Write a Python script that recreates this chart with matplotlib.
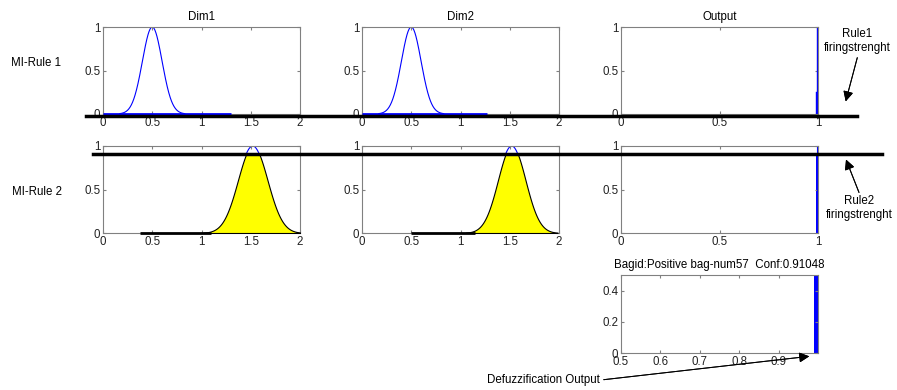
import numpy as np
import matplotlib.pyplot as plt
from matplotlib.lines import Line2D
from matplotlib.transforms import blended_transform_factory, offset_copy

plt.rcParams['font.family'] = ['Liberation Sans', 'DejaVu Sans']
plt.rcParams['font.size'] = 8.3

# rule data
rule_names = ['MI-Rule 1', 'MI-Rule 2']
input_names = ['Dim1', 'Dim2']
mf_centers = [[0.5, 0.5], [1.52, 1.52]]
mf_sigmas = [[0.1, 0.1], [0.15, 0.14]]
firing = [0.0, 0.91]
# instance segments drawn on the zero line (start, end)
inst_segs = [[(0.0, 1.3), (0.0, 1.27)], [(0.38, 1.1), (0.5, 1.15)]]
inst_colors = ['blue', 'black']
out_mf_x = [0.99, 1.0]
defuzz_bar = (0.99, 1.0)
conf = 0.91048
bag_title = 'Bagid:Positive bag-num57  Conf:%.5f' % conf

W, H = 897, 390
fig = plt.figure(figsize=(W / 100, H / 100), dpi=100)

def px(x, y):
    return x / W, 1 - y / H

def style(ax):
    for s in ax.spines.values():
        s.set_color('#808080')
    ax.tick_params(direction='in', length=2, color='#808080', top=True, right=True,
                   labelsize=8.3, pad=2, labelcolor='#222222')

lefts = [103, 362, 621]
tops = [27, 146]
aw, ah = 197, 87
axes_rows = []
for r in range(2):
    row = []
    for c in range(3):
        ax = fig.add_axes([lefts[c] / W, 1 - (tops[r] + ah) / H, aw / W, ah / H])
        style(ax)
        row.append(ax)
    axes_rows.append(row)

xs = np.linspace(0, 2, 801)
for r in range(2):
    for c in range(2):
        ax = axes_rows[r][c]
        mf = np.exp(-(xs - mf_centers[r][c]) ** 2 / (2 * mf_sigmas[r][c] ** 2))
        vis = np.where(mf > 0.004, mf, np.nan)
        if firing[r] > 0:
            vis = np.where(mf > firing[r] - 0.02, mf, np.nan)
        ax.plot(xs, vis, color='blue', lw=0.8, zorder=2)
        if firing[r] > 0:
            clip = np.minimum(mf, firing[r])
            ax.fill_between(xs, 0, clip, where=clip > 0.004, facecolor='yellow',
                            edgecolor='black', lw=0.8, zorder=3)
        a, b = inst_segs[r][c]
        ax.plot([a, b], [0, 0], color=inst_colors[r], lw=2, solid_capstyle='butt',
                zorder=4, clip_on=False)
        ax.set_xlim(0, 2)
        ax.set_ylim(0, 1)
        ax.set_xticks([0, 0.5, 1, 1.5, 2])
        ax.set_xticklabels(['0', '0.5', '1', '1.5', '2'])
        ax.set_yticks([0, 0.5, 1])
        ax.set_yticklabels(['0', '0.5', '1'])
        if r == 0:
            ax.set_title(input_names[c], fontsize=8.3, pad=5)

    ax = axes_rows[r][2]
    if r == 0:
        ax.plot([0.996, 0.996], [0, 1], color='blue', lw=1)
        ax.plot([0.99, 0.99], [0, 0.25], color='blue', lw=1)
        ax.set_title('Output', fontsize=8.3, pad=5)
    else:
        ax.fill_between(out_mf_x, 0, firing[r], color='blue', lw=0)
        ax.plot([0.996, 0.996], [0, 1], color='blue', lw=0.8)
    ax.set_xlim(0, 1)
    ax.set_ylim(0, 1)
    ax.set_xticks([0, 0.5, 1])
    ax.set_xticklabels(['0', '0.5', '1'])
    ax.set_yticks([0, 0.5, 1])
    ax.set_yticklabels(['0', '0.5', '1'])

# defuzzification axes
axd = fig.add_axes([621 / W, 1 - 353 / H, aw / W, 78 / H])
style(axd)
axd.fill_between(defuzz_bar, 0, 0.5, color='blue', lw=0)
axd.plot([defuzz_bar[1], defuzz_bar[1]], [0, 0.5], color='#000080', lw=0.8)
axd.set_xlim(0.5, 1.0)
axd.set_ylim(0, 0.5)
axd.set_xticks([0.5, 0.6, 0.7, 0.8, 0.9])
axd.set_xticklabels(['0.5', '0.6', '0.7', '0.8', '0.9'])
axd.set_yticks([0, 0.2, 0.4])
axd.set_yticklabels(['0', '0.2', '0.4'])
axd.set_title(bag_title, fontsize=8.3, pad=5)

# rule labels
fig.text(*px(36, 63), rule_names[0], ha='center', va='center')
fig.text(*px(37, 192), rule_names[1], ha='center', va='center')

# firing strength lines across each row
line_x = [(86, 857), (93, 882)]
line_off = [-2.0, 0.0]
for r in range(2):
    tr = blended_transform_factory(fig.transFigure, axes_rows[r][0].transData)
    tr = offset_copy(tr, fig=fig, y=line_off[r], units='dots')
    fig.add_artist(Line2D([line_x[r][0] / W, line_x[r][1] / W], [firing[r], firing[r]],
                          transform=tr, color='black', lw=2.5, zorder=1))

# annotations
arrow = dict(arrowstyle='-|>', color='black', lw=0.7, mutation_scale=15)
fig.text(*px(857, 41), 'Rule1\nfiringstrenght', ha='center', va='center',
         linespacing=1.15)
fig.add_artist(plt.annotate('', xy=px(845, 104), xytext=px(858, 55),
                            xycoords='figure fraction', textcoords='figure fraction',
                            arrowprops=arrow))
fig.text(*px(859, 208), 'Rule2\nfiringstrenght', ha='center', va='center',
         linespacing=1.15)
fig.add_artist(plt.annotate('', xy=px(845, 157), xytext=px(860, 195),
                            xycoords='figure fraction', textcoords='figure fraction',
                            arrowprops=arrow))
fig.text(*px(543, 380), 'Defuzzification Output', ha='center', va='center')
fig.add_artist(plt.annotate('', xy=px(812, 356), xytext=px(601, 380),
                            xycoords='figure fraction', textcoords='figure fraction',
                            arrowprops=arrow))

fig.savefig('out.png', dpi=100)
